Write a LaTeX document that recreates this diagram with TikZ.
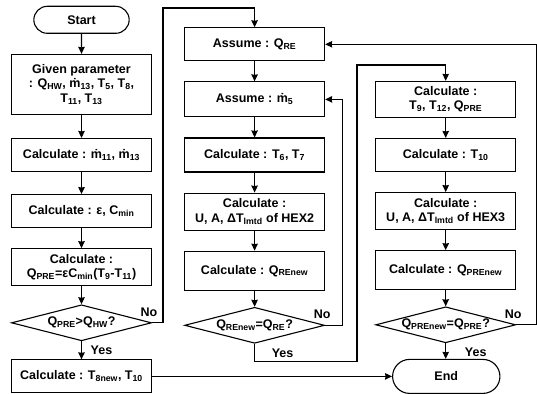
\documentclass[tikz,border=0pt]{standalone}
\usepackage{fontspec}
\setmainfont{Liberation Sans}
\usetikzlibrary{arrows.meta, positioning, shapes.geometric, shapes.misc}

\newcommand{\sbt}[1]{\textsubscript{#1}}

\begin{document}
\begin{tikzpicture}[
      node distance=20pt and 32pt,
      font=\bfseries\fontsize{12.5}{14.5}\selectfont,
      box/.style={draw, line width=1.1pt, minimum height=33pt, minimum width=140pt, align=center, inner sep=2.5pt},
      tbox/.style={box, minimum height=37pt},
      term/.style={draw, line width=1.1pt, rounded rectangle, minimum height=27pt, minimum width=102pt},
      dec/.style={draw, line width=1.1pt, diamond, aspect=3.8, inner sep=0pt, minimum width=140pt, minimum height=36pt},
      lbl/.style={inner sep=1pt},
      arrow/.style={-{Stealth[length=7pt, width=6.5pt, inset=0.5pt]}, line width=1.1pt}
  ]
    \useasboundingbox (0,0) rectangle (537pt,-393pt);

    % left column
    \node[box] (calcm) at (81.5pt,-155pt) {Calculate : \.m\sbt{11}, \.m\sbt{13}};
    \node[box, minimum height=60pt, above=23pt of calcm] (given) {Given parameter\\: Q\sbt{HW}, \.m\sbt{13}, T\sbt{5}, T\sbt{8},\\T\sbt{11}, T\sbt{13}};
    \node[term, above=of given] (start) {Start};
    \node[box, below=22pt of calcm] (calce) {Calculate : ε, C\sbt{min}};
    \node[tbox, below=of calce] (calcq) {Calculate :\\Q\sbt{PRE}=εC\sbt{min}(T\sbt{9}-T\sbt{11})};
    \node[dec, below=18pt of calcq] (dec1) {Q\sbt{PRE}>Q\sbt{HW}?};
    \node[box, below=18pt of dec1] (calct8) {Calculate : T\sbt{8new}, T\sbt{10}};

    % middle column
    \node[box, minimum height=34pt, right=of calcm] (calct6) {Calculate : T\sbt{6}, T\sbt{7}};
    \node[box, minimum height=35pt, above=of calct6] (asm) {Assume : \.m\sbt{5}};
    \node[box, above=of asm] (asq) {Assume : Q\sbt{RE}};
    \node[tbox, below=of calct6] (hex2) {Calculate :\\U, A, ΔT\sbt{lmtd} of HEX2};
    \node[box, minimum height=39pt, below=of hex2] (qre) {Calculate : Q\sbt{REnew}};
    \node[dec, below=16pt of qre] (dec2) {Q\sbt{REnew}=Q\sbt{RE}?};

    % right column
    \node[box, right=50pt of calct6] (calct10) {Calculate : T\sbt{10}};
    \node[box, minimum height=36pt, above=of calct10] (calct9) {Calculate :\\T\sbt{9}, T\sbt{12}, Q\sbt{PRE}};
    \node[tbox, below=of calct10] (hex3) {Calculate :\\U, A, ΔT\sbt{lmtd} of HEX3};
    \node[box, minimum height=39pt, below=of hex3] (qpre) {Calculate : Q\sbt{PREnew}};
    \node[dec, below=16pt of qpre] (dec3) {Q\sbt{PREnew}=Q\sbt{PRE}?};
    \node[term, minimum width=114pt, minimum height=34pt, right=240pt of calct8] (end) {End};

    % straight runs
    \draw[arrow] (start) -- (given);
    \draw[arrow] (given) -- (calcm);
    \draw[arrow] (calcm) -- (calce);
    \draw[arrow] (calce) -- (calcq);
    \draw[arrow] (calcq) -- (dec1);
    \draw[arrow] (dec1) -- (calct8);
    \draw[arrow] (asq) -- (asm);
    \draw[arrow] (asm) -- (calct6);
    \draw[arrow] (calct6) -- (hex2);
    \draw[arrow] (hex2) -- (qre);
    \draw[arrow] (qre) -- (dec2);
    \draw[arrow] (calct9) -- (calct10);
    \draw[arrow] (calct10) -- (hex3);
    \draw[arrow] (hex3) -- (qpre);
    \draw[arrow] (qpre) -- (dec3);
    \draw[arrow] (dec3.south) -- (dec3.south |- end.north);
    \draw[arrow] (calct8) -- (end);

    % loops
    \coordinate (topturn) at (163pt,-8pt);
    \coordinate (yesturn) at (357pt,-65pt);
    \draw[arrow] (dec1.east) -| (topturn) -| (asq.north);
    \draw[arrow] (dec2.east) -- ++(17pt,0) |- (asm.east);
    \draw[arrow] (dec2.south) -- ++(0,-18pt) -| (yesturn) -| (calct9.north);
    \draw[arrow] (dec3.east) -- ++(20pt,0) |- (asq.east);

    % branch labels
    \node[lbl, anchor=south] (no1) at ([xshift=-3pt, yshift=5pt]dec1.east) {No};
    \node[lbl, anchor=south] (no2) at ([xshift=-3pt, yshift=5pt]dec2.east) {No};
    \node[lbl, anchor=south] (no3) at ([xshift=-3pt, yshift=5pt]dec3.east) {No};
    \node[lbl, anchor=west] (yes1) at ([xshift=8pt, yshift=-9pt]dec1.south) {Yes};
    \node[lbl, anchor=west] (yes2) at ([xshift=16pt, yshift=-9pt]dec2.south) {Yes};
    \node[lbl, anchor=west] (yes3) at ([xshift=18pt, yshift=-9pt]dec3.south) {Yes};
  \end{tikzpicture}
\end{document}
